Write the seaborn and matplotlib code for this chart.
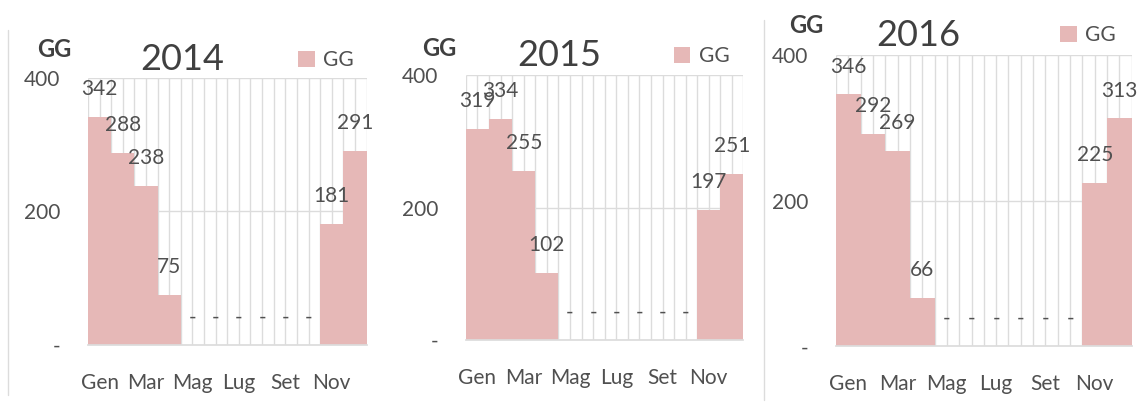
import numpy as np
import pandas as pd
import matplotlib.pyplot as plt
from matplotlib.lines import Line2D
import seaborn as sns

sns.set_theme(style="white")
plt.rcParams['font.family'] = ['Lato', 'DejaVu Sans']

# data
months = ["Gen", "Feb", "Mar", "Apr", "Mag", "Giu", "Lug", "Ago", "Set", "Ott", "Nov", "Dic"]
tick_months = ["Gen", "Mar", "Mag", "Lug", "Set", "Nov"]
years = ["2014", "2015", "2016"]
gg_2014 = [342, 288, 238, 75, 0, 0, 0, 0, 0, 0, 181, 291]
gg_2015 = [319, 334, 255, 102, 0, 0, 0, 0, 0, 0, 197, 251]
gg_2016 = [346, 292, 269, 66, 0, 0, 0, 0, 0, 0, 225, 313]
series = [gg_2014, gg_2015, gg_2016]

bar_color = "#e6b8b7"
text_color = "#505050"
grid_color = "#dcdcdc"

# axes rectangles (fig fraction) and per-panel tweaks
rects = [[0.077, 0.144, 0.244, 0.6625],
         [0.408, 0.156, 0.243, 0.658],
         [0.732, 0.141, 0.259, 0.722]]
title_pos = [(0.34, 1.07), (0.338, 1.075), (0.277, 1.069)]
leg_pos = [(0.985, 1.067), (0.98, 1.07), (0.975, 1.069)]
gg_pos = [(-0.183, 1.105), (-0.158, 1.10), (-0.159, 1.103)]

fig = plt.figure(figsize=(11.42, 4.03), dpi=100)

for k in range(3):
    ax = fig.add_axes(rects[k])
    df = pd.DataFrame({"mese": months, "GG": series[k]})
    ax.vlines(np.arange(-0.5, 12, 0.5), 0, 400, color=grid_color, lw=1, zorder=0)
    ax.hlines([200, 400], -0.5, 11.5, color=grid_color, lw=1, zorder=0)
    sns.barplot(data=df, x="mese", y="GG", color=bar_color, saturation=1,
                width=1.0, linewidth=0, ax=ax, label="GG", zorder=2)
    for i, v in enumerate(series[k]):
        ax.annotate(str(v) if v else "-", (i, v), xytext=(0, 20),
                    textcoords="offset points", ha="center", va="center",
                    fontsize=15, color=text_color, zorder=3)
    ax.set_xlim(-0.5, 11.5)
    ax.set_ylim(0, 400)
    ax.set_xticks(range(0, 12, 2))
    ax.set_xticklabels(tick_months)
    ax.set_yticks([0, 200, 400])
    ax.set_yticklabels(["-", "200", "400"])
    ax.tick_params(axis="both", length=0, labelsize=15, labelcolor=text_color)
    ax.tick_params(axis="x", pad=20)
    ax.tick_params(axis="y", pad=20)
    ax.set_xlabel("")
    ax.set_ylabel("")
    for s in ["top", "right", "left"]:
        ax.spines[s].set_visible(False)
    ax.spines["bottom"].set_color(grid_color)
    ax.text(*title_pos[k], years[k], transform=ax.transAxes, ha="center",
            va="center", fontsize=26, color="#404040")
    ax.text(*gg_pos[k], "GG", transform=ax.transAxes, ha="left", va="center",
            fontsize=17, fontweight="bold", color="#404040")
    ax.legend(loc="center right", bbox_to_anchor=leg_pos[k], frameon=False,
              handlelength=0.8, handleheight=0.8, handletextpad=0.4,
              fontsize=15, labelcolor=text_color, borderaxespad=0)

# separator lines
fig.add_artist(Line2D([8 / 1142, 8 / 1142], [1 - 395 / 403, 1 - 30 / 403],
                      color=grid_color, lw=1))
fig.add_artist(Line2D([764 / 1142, 764 / 1142], [1 - 400 / 403, 1 - 20 / 403],
                      color=grid_color, lw=1))

fig.savefig("out.png", dpi=100)
